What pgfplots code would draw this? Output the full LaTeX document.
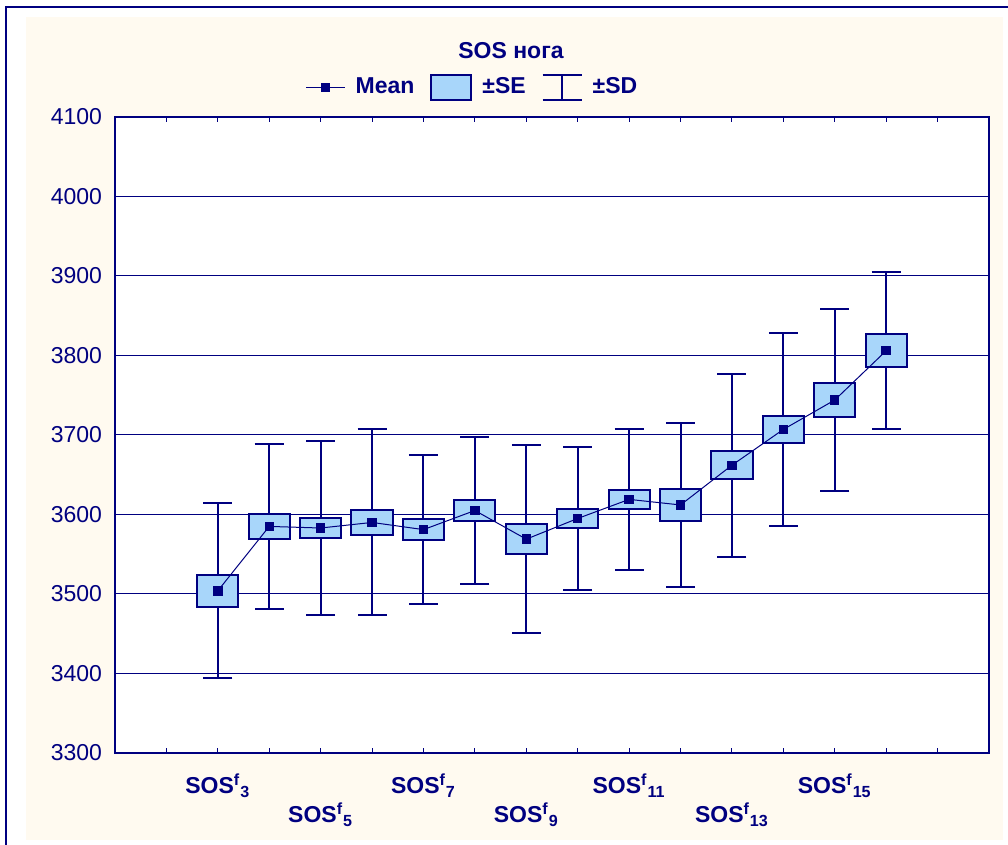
\documentclass[border=0pt]{standalone}
\usepackage{fontspec}
\setmainfont{Liberation Sans}
\usepackage{pgfplots}
\usepackage{pgfplotstable}
\pgfplotsset{compat=1.18}
\definecolor{navy}{RGB}{0,0,128}
\definecolor{sefill}{RGB}{168,214,250}
\definecolor{cream}{RGB}{255,250,240}

% pos, mean, SD
\pgfplotstableread{
x mean sd
2 3504 110
3 3585 104
4 3583 109
5 3590 117
6 3581 94
7 3605 92
8 3569 118
9 3595 90
10 3619 89
11 3612 103
12 3662 115
13 3707 121
14 3744 115
15 3806 99
}\meantable

\newcommand{\lab}[1]{\textbf{SOS\textsuperscript{f}\textsubscript{#1}}}

\begin{document}
\begin{tikzpicture}
\useasboundingbox (-57.5pt,-46pt) rectangle (446.5pt,376.5pt);
\fill[white] (-57.5pt,-46pt) rectangle (446.5pt,376.5pt);
\fill[cream] (-44.5pt,-43.5pt) rectangle (444pt,368pt);
\draw[navy, line width=1.3pt] (-54.5pt,-60pt) -- (-54.5pt,373pt) -- (460pt,373pt);
\begin{axis}[
  at={(0pt,0pt)}, anchor=south west,
  scale only axis, width=437pt, height=318pt,
  xmin=0, xmax=17, ymin=3300, ymax=4100,
  ytick={3300,3400,...,4100},
  xtick={1,...,16},
  xticklabels={,\lab{3},,,,\lab{7},,,,\lab{11},,,,\lab{15},,},
  extra x ticks={4,8,12},
  extra x tick labels={\lab{5},\lab{9},\lab{13}},
  extra x tick style={xticklabel style={yshift=-14.5pt}},
  axis background/.style={fill=white},
  axis line style={navy, line width=0.6pt},
  ymajorgrids, major grid style={navy, line width=0.5pt},
  xtick style={navy, line width=0.5pt}, major tick length=2.5pt,
  ytick style={draw=none},
  tick align=inside,
  yticklabel style={font=\fontsize{11.5}{12}\selectfont, text=navy, xshift=-3pt},
  xticklabel style={anchor=base, yshift=-20.5pt, font=\fontsize{11.5}{12}\selectfont, text=navy},
  /pgf/number format/assume math mode=true,
  /pgf/number format/1000 sep={},
  legend style={at={(0.41,1.047)}, anchor=center, draw=none, fill=none,
    legend columns=-1, font=\bfseries\fontsize{11.5}{12}\selectfont, text=navy,
    /tikz/every odd column/.append style={column sep=3pt},
    /tikz/every even column/.append style={column sep=6pt}},
]
\addlegendimage{legend image code/.code={\draw[navy, line width=0.6pt] (0pt,0pt) -- (19.5pt,0pt); \fill[navy] (7.75pt,-2pt) rectangle (11.75pt,2pt);}}
\addlegendentry{Mean}
\addlegendimage{legend image code/.code={\draw[navy, line width=1pt, fill=sefill] (0pt,-6.25pt) rectangle (20pt,6.25pt);}}
\addlegendentry{±SE}
\addlegendimage{legend image code/.code={\draw[navy, line width=1pt] (0pt,-6.25pt) -- (19.5pt,-6.25pt) (9.75pt,-6.25pt) -- (9.75pt,6.25pt) (0pt,6.25pt) -- (19.5pt,6.25pt);}}
\addlegendentry{±SD}

% +-SD whiskers
\addplot[draw=none, mark=none, forget plot,
  error bars/.cd, y dir=both, y explicit, error mark=|,
  error bar style={navy, line width=1pt},
  error mark options={navy, line width=1pt, mark size=7.25pt}]
  table[x=x, y=mean, y error=sd] {\meantable};

% +-SE boxes
\pgfplotsset{sebox/.style={draw=navy, fill=sefill, line width=1pt, forget plot}}
\addplot[sebox] coordinates {(1.6,3483.5) (2.4,3483.5) (2.4,3524.5) (1.6,3524.5)} -- cycle;
\addplot[sebox] coordinates {(2.6,3569) (3.4,3569) (3.4,3601) (2.6,3601)} -- cycle;
\addplot[sebox] coordinates {(3.6,3570) (4.4,3570) (4.4,3596) (3.6,3596)} -- cycle;
\addplot[sebox] coordinates {(4.6,3574.5) (5.4,3574.5) (5.4,3605.5) (4.6,3605.5)} -- cycle;
\addplot[sebox] coordinates {(5.6,3568) (6.4,3568) (6.4,3594) (5.6,3594)} -- cycle;
\addplot[sebox] coordinates {(6.6,3592) (7.4,3592) (7.4,3618) (6.6,3618)} -- cycle;
\addplot[sebox] coordinates {(7.6,3550.5) (8.4,3550.5) (8.4,3587.5) (7.6,3587.5)} -- cycle;
\addplot[sebox] coordinates {(8.6,3583.5) (9.4,3583.5) (9.4,3606.5) (8.6,3606.5)} -- cycle;
\addplot[sebox] coordinates {(9.6,3607) (10.4,3607) (10.4,3631) (9.6,3631)} -- cycle;
\addplot[sebox] coordinates {(10.6,3591.5) (11.4,3591.5) (11.4,3632.5) (10.6,3632.5)} -- cycle;
\addplot[sebox] coordinates {(11.6,3644.5) (12.4,3644.5) (12.4,3679.5) (11.6,3679.5)} -- cycle;
\addplot[sebox] coordinates {(12.6,3689.5) (13.4,3689.5) (13.4,3724.5) (12.6,3724.5)} -- cycle;
\addplot[sebox] coordinates {(13.6,3723) (14.4,3723) (14.4,3765) (13.6,3765)} -- cycle;
\addplot[sebox] coordinates {(14.6,3785) (15.4,3785) (15.4,3827) (14.6,3827)} -- cycle;

% mean line
\addplot[navy, line width=0.5pt, mark=square*, mark size=2.1pt, mark options={solid, fill=navy, draw=navy}, forget plot] table[x=x, y=mean] {\meantable};
\end{axis}
\node[font=\bfseries\fontsize{11.5}{12}\selectfont, text=navy, anchor=base] at (198pt,347pt) {SOS нога};
\end{tikzpicture}
\end{document}
